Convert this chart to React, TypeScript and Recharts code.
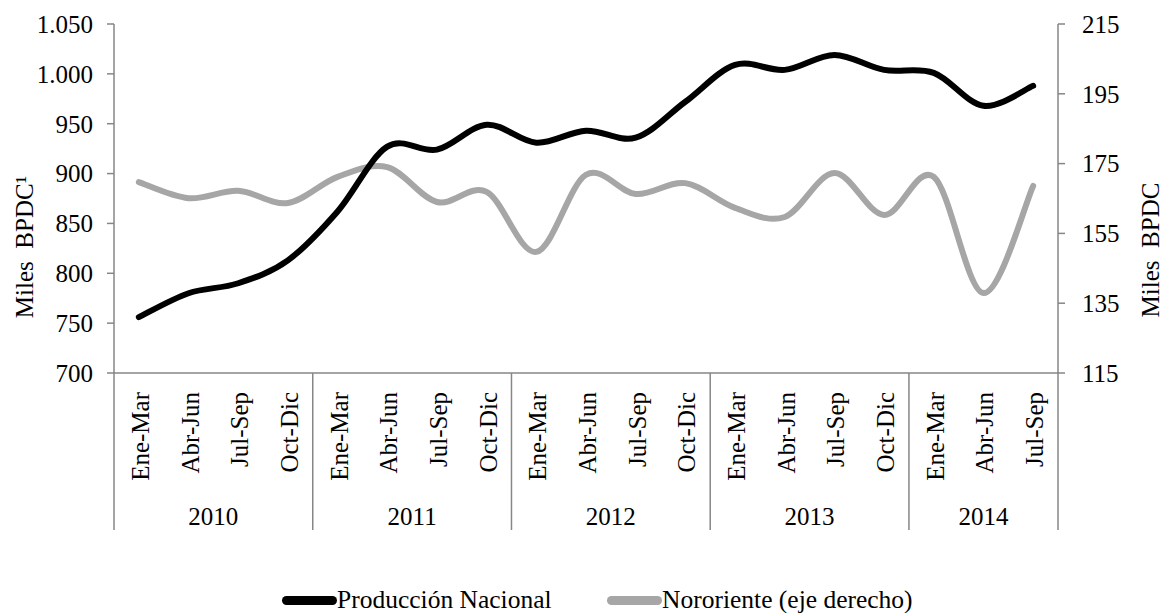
import { LineChart, Line, XAxis, YAxis, Legend } from "recharts"

// quarters 2010 Q1 .. 2014 Q3
const quarters = [
  "Ene-Mar", "Abr-Jun", "Jul-Sep", "Oct-Dic",
  "Ene-Mar", "Abr-Jun", "Jul-Sep", "Oct-Dic",
  "Ene-Mar", "Abr-Jun", "Jul-Sep", "Oct-Dic",
  "Ene-Mar", "Abr-Jun", "Jul-Sep", "Oct-Dic",
  "Ene-Mar", "Abr-Jun", "Jul-Sep",
]
const years = [
  "2010", "2010", "2010", "2010",
  "2011", "2011", "2011", "2011",
  "2012", "2012", "2012", "2012",
  "2013", "2013", "2013", "2013",
  "2014", "2014", "2014",
]

// Miles BPDC (left axis)
const produccionNacional = [756, 780, 790, 813, 862, 927, 924, 949, 931, 943, 936, 972, 1009, 1004, 1019, 1004, 1001, 968, 988]
// Miles BPDC (right axis)
const nororiente = [169.7, 165.1, 167.2, 163.7, 171.2, 174, 164, 166.9, 149.7, 171.8, 166.3, 169.4, 162.3, 159.7, 172.3, 160.3, 171.2, 137.9, 168.6]

const leftTicks = [700, 750, 800, 850, 900, 950, 1000, 1050]
const rightTicks = [115, 135, 155, 175, 195, 215]

const data = quarters.map((q, i) => ({
  key: `${years[i]}-${q}`,
  q,
  year: years[i],
  prod: produccionNacional[i],
  noro: nororiente[i],
}))

const FONT = '"Liberation Serif", "Times New Roman", serif'
const FS = 25
const AXIS = "#868686"
const W = 1166
const H = 613
const PLOT_LEFT = 114
const PLOT_RIGHT = 1058
const PLOT_TOP = 24
const PLOT_BOTTOM = 373
const BAND = (PLOT_RIGHT - PLOT_LEFT) / quarters.length

// excel-ish smoothing (catmull-rom as cubic bezier)
function smoothCurve(context: any) {
  let pts: number[][] = []
  return {
    areaStart() {},
    areaEnd() {},
    lineStart() {
      pts = []
    },
    lineEnd() {
      if (!pts.length) return
      context.moveTo(pts[0][0], pts[0][1])
      for (let i = 0; i < pts.length - 1; i++) {
        const p0 = pts[Math.max(i - 1, 0)]
        const p1 = pts[i]
        const p2 = pts[i + 1]
        const p3 = pts[Math.min(i + 2, pts.length - 1)]
        context.bezierCurveTo(
          p1[0] + (p2[0] - p0[0]) / 6,
          p1[1] + (p2[1] - p0[1]) / 6,
          p2[0] - (p3[0] - p1[0]) / 6,
          p2[1] - (p3[1] - p1[1]) / 6,
          p2[0],
          p2[1]
        )
      }
    },
    point(x: number, y: number) {
      pts.push([+x, +y])
    },
  }
}

function QuarterTick(props: any) {
  const { x, payload } = props
  const i = props.index ?? payload.index
  const ax = x + 10
  const ay = PLOT_BOTTOM + 19
  const first = i === 0 || years[i] !== years[i - 1]
  let groupLen = 0
  if (first) {
    while (i + groupLen < years.length && years[i + groupLen] === years[i]) groupLen++
  }
  return (
    <g>
      <text
        x={ax}
        y={ay}
        transform={`rotate(-90 ${ax} ${ay})`}
        textAnchor="end"
        fontSize={FS}
        fontFamily={FONT}
        fill="#000"
      >
        {quarters[i]}
      </text>
      {first && (
        <line x1={x - BAND / 2} x2={x - BAND / 2} y1={PLOT_BOTTOM} y2={530} stroke={AXIS} strokeWidth={1.5} />
      )}
      {first && (
        <text
          x={x + ((groupLen - 1) / 2) * BAND}
          y={525}
          textAnchor="middle"
          fontSize={FS}
          fontFamily={FONT}
          fill="#000"
        >
          {years[i]}
        </text>
      )}
      {i === quarters.length - 1 && (
        <line x1={x + BAND / 2} x2={x + BAND / 2} y1={PLOT_BOTTOM} y2={530} stroke={AXIS} strokeWidth={1.5} />
      )}
    </g>
  )
}

function AxisTitle({ tx, ty, text }: { tx: number; ty: number; text: string }) {
  return (
    <text
      x={tx}
      y={ty}
      transform={`rotate(-90 ${tx} ${ty})`}
      textAnchor="middle"
      fontSize={FS}
      fontFamily={FONT}
      fill="#000"
      style={{ whiteSpace: "pre" }}
    >
      {text}
    </text>
  )
}

function LegendBox() {
  const item = (color: string, label: string, width?: number) => (
    <div style={{ display: "flex", alignItems: "center", width }}>
      <span style={{ display: "inline-block", width: 55, height: 9, borderRadius: 5, background: color }} />
      <span style={{ fontSize: FS + 0.5, lineHeight: "30px", whiteSpace: "nowrap" }}>{label}</span>
    </div>
  )
  return (
    <div style={{ display: "flex", fontFamily: FONT, color: "#000" }}>
      {item("#000000", "Producción Nacional", 325)}
      {item("#a6a6a6", "Nororiente (eje derecho)")}
    </div>
  )
}

const fmtLeft = (v: number) => (v >= 1000 ? `${Math.floor(v / 1000)}.${String(v % 1000).padStart(3, "0")}` : `${v}`)

export default function App() {
  return (
    <div style={{ position: "absolute", left: 0, top: 0, width: W, height: H, background: "#fff" }}>
      <LineChart
        width={W}
        height={H}
        data={data}
        margin={{ top: PLOT_TOP, right: 0, bottom: H - PLOT_BOTTOM - 240, left: 0 }}
        style={{ fontFamily: FONT }}
      >
        <XAxis
          dataKey="key"
          interval={0}
          height={240}
          padding={{ left: BAND / 2, right: BAND / 2 }}
          tickLine={false}
          axisLine={{ stroke: AXIS, strokeWidth: 1.5 }}
          tick={<QuarterTick />}
        />
        <YAxis
          yAxisId="left"
          width={PLOT_LEFT}
          domain={[700, 1050]}
          ticks={leftTicks}
          tickFormatter={fmtLeft}
          tickSize={7}
          tickMargin={14}
          axisLine={{ stroke: AXIS, strokeWidth: 1.5 }}
          tickLine={{ stroke: AXIS, strokeWidth: 1.5 }}
          tick={{ fill: "#000", fontSize: FS, fontFamily: FONT }}
          label={<AxisTitle tx={33} ty={247} text={"Miles  BPDC\u00b9"} />}
        />
        <YAxis
          yAxisId="right"
          orientation="right"
          width={W - PLOT_RIGHT}
          domain={[115, 215]}
          ticks={rightTicks}
          tickSize={7}
          tickMargin={17}
          axisLine={{ stroke: AXIS, strokeWidth: 1.5 }}
          tickLine={{ stroke: AXIS, strokeWidth: 1.5 }}
          tick={{ fill: "#000", fontSize: FS, fontFamily: FONT }}
          label={<AxisTitle tx={1159} ty={250} text={"Miles  BPDC"} />}
        />
        <Legend
          verticalAlign="middle"
          align="center"
          layout="horizontal"
          wrapperStyle={{ top: 585, left: 282, width: 700, height: 30 }}
          content={() => <LegendBox />}
        />
        <Line
          yAxisId="right"
          dataKey="noro"
          name="Nororiente (eje derecho)"
          type={smoothCurve as any}
          stroke="#a6a6a6"
          strokeWidth={6}
          strokeLinecap="round"
          dot={false}
          activeDot={false}
          isAnimationActive={false}
        />
        <Line
          yAxisId="left"
          dataKey="prod"
          name="Producción Nacional"
          type={smoothCurve as any}
          stroke="#000000"
          strokeWidth={6}
          strokeLinecap="round"
          dot={false}
          activeDot={false}
          isAnimationActive={false}
        />
      </LineChart>
    </div>
  )
}
